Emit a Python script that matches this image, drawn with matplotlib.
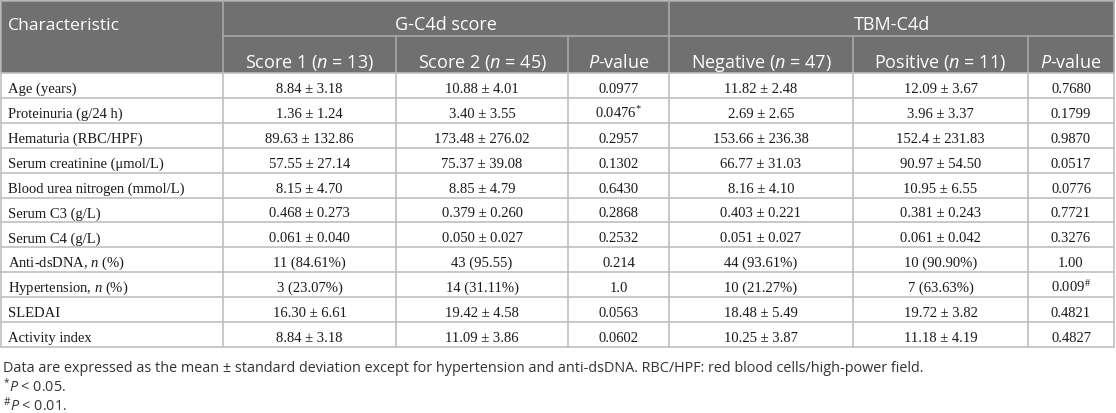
import matplotlib
matplotlib.use('Agg')
import matplotlib.pyplot as plt
from matplotlib.patches import Rectangle

# ---------------------------------------------------------------------
# table content
characteristics = ['Age (years)', 'Proteinuria (g/24 h)', 'Hematuria (RBC/HPF)',
                   'Serum creatinine (\u03bcmol/L)', 'Blood urea nitrogen (mmol/L)',
                   'Serum C3 (g/L)', 'Serum C4 (g/L)', r'Anti-dsDNA, $\mathbf{n}$ (%)',
                   r'Hypertension, $\mathbf{n}$ (%)', 'SLEDAI', 'Activity index']
score1 = ['8.84 \u00b1 3.18', '1.36 \u00b1 1.24', '89.63 \u00b1 132.86', '57.55 \u00b1 27.14',
          '8.15 \u00b1 4.70', '0.468 \u00b1 0.273', '0.061 \u00b1 0.040', '11 (84.61%)',
          '3 (23.07%)', '16.30 \u00b1 6.61', '8.84 \u00b1 3.18']
score2 = ['10.88 \u00b1 4.01', '3.40 \u00b1 3.55', '173.48 \u00b1 276.02', '75.37 \u00b1 39.08',
          '8.85 \u00b1 4.79', '0.379 \u00b1 0.260', '0.050 \u00b1 0.027', '43 (95.55)',
          '14 (31.11%)', '19.42 \u00b1 4.58', '11.09 \u00b1 3.86']
p_gc4d = ['0.0977', r'0.0476$^{\mathsf{*}}$', '0.2957', '0.1302', '0.6430', '0.2868',
          '0.2532', '0.214', '1.0', '0.0563', '0.0602']
negative = ['11.82 \u00b1 2.48', '2.69 \u00b1 2.65', '153.66 \u00b1 236.38', '66.77 \u00b1 31.03',
            '8.16 \u00b1 4.10', '0.403 \u00b1 0.221', '0.051 \u00b1 0.027', '44 (93.61%)',
            '10 (21.27%)', '18.48 \u00b1 5.49', '10.25 \u00b1 3.87']
positive = ['12.09 \u00b1 3.67', '3.96 \u00b1 3.37', '152.4 \u00b1 231.83', '90.97 \u00b1 54.50',
            '10.95 \u00b1 6.55', '0.381 \u00b1 0.243', '0.061 \u00b1 0.042', '10 (90.90%)',
            '7 (63.63%)', '19.72 \u00b1 3.82', '11.18 \u00b1 4.19']
p_tbm = ['0.7680', '0.1799', '0.9870', '0.0517', '0.0776', '0.7721', '0.3276', '1.00',
         r'0.009$^{\mathsf{\#}}$', '0.4821', '0.4827']

group_headers = ['G-C4d score', 'TBM-C4d']
sub_headers = [r'Score 1 ($n$ = 13)', r'Score 2 ($n$ = 45)', r'$P$-value',
               r'Negative ($n$ = 47)', r'Positive ($n$ = 11)', r'$P$-value']
footnotes = ['Data are expressed as the mean \u00b1 standard deviation except for hypertension '
             'and anti-dsDNA. RBC/HPF: red blood cells/high-power field.',
             r'$^{\mathrm{*}}P$ < 0.05.',
             r'$^{\mathrm{\#}}P$ < 0.01.']

# ---------------------------------------------------------------------
# fonts: rm/it for the sans header, bf/sf hijacked for serif italic + superscripts
plt.rcParams['mathtext.fontset'] = 'custom'
plt.rcParams['mathtext.rm'] = 'Open Sans'
plt.rcParams['mathtext.it'] = 'Open Sans:italic'
plt.rcParams['mathtext.bf'] = 'Liberation Serif:italic'
plt.rcParams['mathtext.sf'] = 'Liberation Serif'

HEAD_BG = '#707070'
HEAD_LINE = '#a9a9a9'
GRID = '#bfbfbf'
SANS = 'Open Sans'
SERIF = 'Liberation Serif'
HEAD_FS = 13
BODY_FS = 10.5
NOTE_FS = 10.4

col_edges = [1, 223, 396, 568, 669, 853, 1028, 1114]
head_top, head_mid, head_bot = 1.5, 37, 74
row_h = 24.9

fig = plt.figure(figsize=(11.16, 4.14), dpi=100)
ax = fig.add_axes([0, 0, 1, 1])
ax.set_xlim(0, 1116)
ax.set_ylim(414, 0)
ax.axis('off')

# header block
ax.add_patch(Rectangle((col_edges[0], head_top), col_edges[-1] - col_edges[0],
                       head_bot - head_top, facecolor=HEAD_BG, edgecolor='none'))
ax.plot([col_edges[1], col_edges[-1]], [head_mid, head_mid], color=HEAD_LINE, lw=1.2)
ax.plot([col_edges[0], col_edges[-1]], [head_top, head_top], color=HEAD_LINE, lw=1.2)
for x in [col_edges[1], col_edges[4]]:
    ax.plot([x, x], [head_top, head_bot], color=HEAD_LINE, lw=1.2)
for x in [col_edges[2], col_edges[3], col_edges[5], col_edges[6]]:
    ax.plot([x, x], [head_mid, head_bot], color=HEAD_LINE, lw=1.2)
ax.plot([col_edges[0]] * 2, [head_top, head_bot], color=HEAD_LINE, lw=1.2)
ax.plot([col_edges[-1]] * 2, [head_top, head_bot], color=HEAD_LINE, lw=1.2)

ax.text(8, 29.5, 'Characteristic', color='white', fontsize=12.6, family=SANS, va='baseline')
for i, label in enumerate(group_headers):
    xc = (col_edges[1 + 3 * i] + col_edges[4 + 3 * i]) / 2
    ax.text(xc, 29.5, label, color='white', fontsize=HEAD_FS, family=SANS, ha='center', va='baseline')
for i, label in enumerate(sub_headers):
    xc = (col_edges[1 + i] + col_edges[2 + i]) / 2
    ax.text(xc, 68, label, color='white', fontsize=HEAD_FS, family=SANS, ha='center', va='baseline')

# body
n_rows = len(characteristics)
body_bot = head_bot + n_rows * row_h
for r in range(n_rows + 1):
    y = head_bot + r * row_h
    ax.plot([col_edges[0], col_edges[-1]], [y, y], color=GRID, lw=1.2)
for x in col_edges:
    ax.plot([x, x], [head_bot, body_bot], color=GRID, lw=1.2)

columns = [score1, score2, p_gc4d, negative, positive, p_tbm]
for r in range(n_rows):
    yb = head_bot + r * row_h + 19
    ax.text(8, yb, characteristics[r], fontsize=BODY_FS, family=SERIF, color='#1a1a1a', va='baseline')
    for c, values in enumerate(columns):
        xc = (col_edges[1 + c] + col_edges[2 + c]) / 2
        ax.text(xc, yb, values[r], fontsize=BODY_FS, family=SERIF, color='#1a1a1a',
                ha='center', va='baseline')

# footnotes
for i, note in enumerate(footnotes):
    ax.text(3, 372 + i * 19.3, note, fontsize=NOTE_FS, family=SANS, color='#333333', va='baseline')

fig.savefig('out.png', dpi=100)
